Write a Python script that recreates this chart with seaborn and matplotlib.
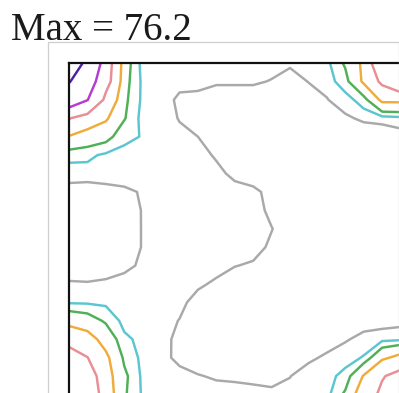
import numpy as np
import matplotlib
matplotlib.use("Agg")
import matplotlib.pyplot as plt
from matplotlib.patches import Rectangle
import seaborn as sns

sns.set_style("white")

# grid coordinates (degrees)
x_deg = [0, 5, 10, 15, 20, 25, 30, 35, 40, 45, 50, 55, 60, 65, 70, 75, 80, 85, 90]
y_deg = [0, 5, 10, 15, 20, 25, 30, 35, 40, 45, 50, 55, 60, 65, 70, 75, 80, 85, 90]

# intensity values, one row per y_deg (top to bottom)
r00 = [76.2, 59.8, 21.2, 5.5, 1.3, 1.3, 1.25, 1.3, 1.3, 1.3, 1.3, 1.2, 1.1, 1.25, 1.5, 4.4, 8.9, 25.4, 28]
r01 = [66, 42, 20, 5, 1.6, 1.4, 1.3, 1.3, 1.08, 1.08, 1.08, 0.97, 0.73, 1.02, 1.2, 3, 8.7, 17.8, 25.7]
r02 = [43, 32.5, 13.3, 4.6, 1.6, 1.45, 0.8, 0.72, 0.68, 0.68, 0.68, 0.6, 0.55, 0.69, 0.97, 1.3, 2.8, 9, 9]
r03 = [16.5, 11, 8.6, 4.2, 1.34, 1.4, 0.95, 0.7, 0.6, 0.6, 0.6, 0.6, 0.6, 0.6, 0.65, 0.9, 1.11, 1.2, 1.5]
r04 = [7.65, 6, 5, 2.44, 1.9, 1.5, 1.2, 1.0, 0.75, 0.6, 0.55, 0.55, 0.55, 0.55, 0.55, 0.6, 0.6, 0.6, 0.6]
r05 = [2.5, 2.4, 1.67, 1.5, 1.45, 1.45, 1.35, 1.2, 0.93, 0.7, 0.6, 0.55, 0.55, 0.5, 0.5, 0.5, 0.5, 0.5, 0.5]
r06 = [1.3, 1.35, 1.4, 1.45, 1.5, 1.5, 1.45, 1.35, 1.15, 0.86, 0.65, 0.55, 0.5, 0.45, 0.45, 0.45, 0.45, 0.45, 0.45]
r07 = [0.72, 0.6, 0.7, 0.82, 1.08, 1.3, 1.45, 1.45, 1.35, 1.2, 1.15, 0.8, 0.6, 0.5, 0.45, 0.4, 0.4, 0.4, 0.4]
r08 = [0.6, 0.55, 0.6, 0.72, 1.03, 1.35, 1.5, 1.55, 1.5, 1.4, 1.25, 0.85, 0.6, 0.45, 0.4, 0.4, 0.35, 0.35, 0.35]
r09 = [0.55, 0.5, 0.55, 0.7, 1.03, 1.35, 1.5, 1.55, 1.5, 1.45, 1.3, 1.02, 0.7, 0.5, 0.4, 0.35, 0.35, 0.35, 0.35]
r10 = [0.55, 0.5, 0.55, 0.7, 1.03, 1.35, 1.5, 1.55, 1.5, 1.4, 1.2, 0.9, 0.65, 0.5, 0.4, 0.35, 0.35, 0.35, 0.35]
r11 = [0.7, 0.7, 0.72, 0.85, 1.1, 1.35, 1.45, 1.4, 1.2, 1.02, 0.93, 0.7, 0.55, 0.45, 0.4, 0.35, 0.35, 0.35, 0.35]
r12 = [1.06, 1.04, 1.1, 1.22, 1.35, 1.4, 1.35, 1.1, 0.9, 0.7, 0.6, 0.5, 0.45, 0.4, 0.35, 0.35, 0.35, 0.35, 0.35]
r13 = [1.8, 1.75, 1.6, 1.5, 1.45, 1.35, 1.15, 0.78, 0.6, 0.5, 0.45, 0.4, 0.4, 0.4, 0.4, 0.4, 0.4, 0.4, 0.4]
r14 = [6.5, 5.5, 3.6, 1.4, 1.3, 1.2, 0.98, 0.75, 0.6, 0.5, 0.45, 0.4, 0.4, 0.45, 0.5, 0.55, 0.6, 0.65, 0.7]
r15 = [11.9, 10, 6.2, 2.4, 1.5, 1.25, 0.8, 0.6, 0.5, 0.45, 0.45, 0.45, 0.45, 0.5, 0.65, 0.9, 1.28, 1.45, 1.6]
r16 = [21.7, 16.2, 9, 3.5, 1.5, 1.3, 0.75, 0.55, 0.5, 0.5, 0.5, 0.5, 0.55, 0.85, 1.13, 1.5, 2.1, 7, 9.5]
r17 = [26, 22, 10, 4.6, 1.6, 1.4, 1.3, 1.05, 0.9, 0.88, 0.85, 0.85, 0.98, 1.35, 1.6, 2.4, 8.3, 15.3, 19.2]
r18 = [30, 25, 10.9, 4.35, 1.74, 1.5, 1.4, 1.35, 1.33, 1.25, 1.18, 1.1, 1.2, 1.3, 1.4, 4.5, 11.1, 17.9, 22]

levels = [1, 2, 4, 8, 16, 32, 64]
level_colors = ["#a9a9a9", "#5cc6d0", "#4fb056", "#f0ac3a", "#e88e94", "#b53bd6", "#4a22a6"]
title_text = "Max = 76.2"

values = np.array([r00, r01, r02, r03, r04, r05, r06, r07, r08, r09,
                   r10, r11, r12, r13, r14, r15, r16, r17, r18])
X, Y = np.meshgrid(x_deg, y_deg)

W, H = 399, 393
fig = plt.figure(figsize=(W / 100, H / 100), dpi=100)
fig.patch.set_facecolor("white")

ax = fig.add_axes([69 / W, (H - 394.5) / H, 331.5 / W, 331.5 / H])
ax.contour(X, Y, values, levels=levels, colors=level_colors, linewidths=1.75)
ax.set_xlim(x_deg[0], x_deg[-1])
ax.set_ylim(y_deg[-1], y_deg[0])
ax.set_xticks([])
ax.set_yticks([])
for side in ["top", "left", "right", "bottom"]:
    ax.spines[side].set_visible(True)
    ax.spines[side].set_color("#111111")
    ax.spines[side].set_linewidth(1.6)

# light frame around the panel
frame = Rectangle((48 / W, -0.5), (398.5 - 48) / W, (H - 42) / H + 0.5,
                  transform=fig.transFigure, fill=False,
                  edgecolor="#cfcfcf", linewidth=0.9, zorder=10)
fig.add_artist(frame)

fig.text(11 / W, (H - 39.5) / H, title_text, fontfamily="Liberation Serif",
         fontsize=28, va="baseline", ha="left", color="#1a1a1a")

fig.savefig("out.png", dpi=100, facecolor="white")
